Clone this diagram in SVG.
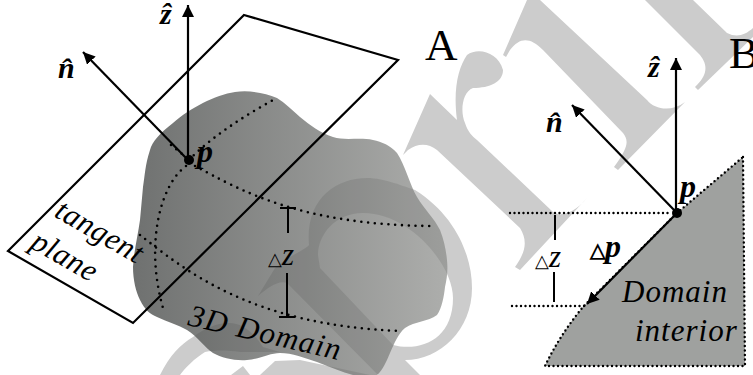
<svg xmlns="http://www.w3.org/2000/svg" width="753" height="375" viewBox="0 0 753 375">
<style>
text{font-family:"Liberation Serif",serif;fill:#000}
.i{font-style:italic;font-size:31px;letter-spacing:.5px}
.b{font-style:italic;font-weight:bold;font-size:32px}
.h{font-style:italic;font-weight:bold;font-size:30px}
.cap{font-size:45px}
.d{font-style:italic;font-size:31px}
.line{fill:none;stroke:#000;stroke-width:2.2}
.thin{fill:none;stroke:#000;stroke-width:2}
.dots{fill:none;stroke:#000;stroke-width:2.6;stroke-linecap:round;stroke-dasharray:0 6.8}
.dense{fill:none;stroke:#000;stroke-width:2.4;stroke-linecap:round;stroke-dasharray:0 4.5}
</style>
<defs>
<marker id="ah" markerUnits="userSpaceOnUse" markerWidth="14" markerHeight="14" refX="12" refY="6" orient="auto"><path d="M0,0L12,6L0,12Z" fill="#000"/></marker>
<linearGradient id="g" x1="0" x2="1" y1="0" y2="0"><stop offset="0" stop-color="#6f7170"/><stop offset="1" stop-color="#adaeac"/></linearGradient>
<path id="blob" d="M277,98C265,93 250,90 235,92C215,95 190,108 173,123C160,133 152,142 150,150C145,165 145,175 143,187L140,220C138,235 134,250 133,267C133,280 136,292 140,300C145,310 150,314 157,317C168,322 178,325 187,330C198,337 205,348 213,353C222,358 235,361 247,360C260,359 270,353 280,353C292,353 305,358 317,362C330,367 342,372 353,375L377,375C383,370 387,360 390,353C395,342 398,334 405,328C415,321 428,322 437,315C442,308 444,296 445,287C447,278 448,270 447,260C446,250 444,240 440,230C434,218 425,210 417,197C410,185 405,165 397,153C390,145 382,142 373,140C360,137 345,141 333,137C320,133 310,125 300,117C292,110 285,103 277,98Z"/>
<clipPath id="bc"><use href="#blob"/></clipPath>
<g id="wm">
<path fill-rule="evenodd" d="M258,296L275,268C290,255 305,250 309,245C305,200 335,178 367,178C385,178 405,187 415,190C455,215 472,255 472,288C472,330 440,360 405,360L420,375L378,375L287,283C278,280 268,288 258,296ZM320,268L393,345C420,352 453,340 453,298C453,265 410,213 363,213C335,213 318,235 318,255Z"/>
<path d="M403,155L430,94L457,120C453,90 458,68 467,55C478,47 498,52 503,70C503,82 490,88 473,88C462,92 460,112 465,123C468,132 472,136 477,140L553,212C558,216 572,216 587,198L520,270L515,267C527,250 527,240 520,228L437,150C428,143 418,143 408,150Z"/>
<path d="M503,55L527,0L540,0L647,100C655,110 672,112 685,102L618,170L614,167C630,145 628,140 623,133L543,50C530,37 520,37 510,50L506,57Z"/>
<path d="M645,0L700,55C708,65 708,75 695,87L698,90L753,37L753,28C745,35 737,38 727,33L693,0Z"/>
<path d="M160,375C170,355 180,345 193,337C205,328 218,323 227,323C240,322 252,330 263,347L280,352L240,352C228,350 215,350 205,352C195,358 185,368 180,375Z"/>
<path d="M231,375L243,366L250,375Z"/>
<path d="M260,375L275,361L300,360L370,375Z"/>
</g>
</defs>
<rect width="753" height="375" fill="#fff"/>
<use id="watermark" href="#wm" fill="#ccc"/>
<g id="domain3d">
<use href="#blob" fill="url(#g)"/>
<g clip-path="url(#bc)"><use href="#wm" fill="#000" fill-opacity=".09"/></g>
</g>
<g id="dotted-curves">
<path class="dots" d="M189,160C210,138 245,115 277,98"/>
<path class="dots" d="M171,145L187,158"/>
<path class="dots" d="M195,166C240,190 300,225 432,226"/>
<path class="dots" d="M186,166C160,185 145,245 163,308"/>
<path class="dots" d="M140,235C185,270 250,325 400,331"/>
</g>
<g id="plane"><path class="line" d="M244,15L398,60L133,323L8,251Z"/></g>
<g id="connectors-a">
<path class="line" d="M188,160V5" marker-end="url(#ah)"/>
<path class="line" d="M188,160L83,52" marker-end="url(#ah)"/>
<path class="thin" d="M280,208H296M288,208V233M287,273V317M279,317H295"/>
</g>
<g id="point-a"><circle cx="189" cy="160" r="5" fill="#000"/><text class="b" x="197" y="162">p</text></g>
<g id="labels-a">
<text class="h" x="160" y="24">ẑ</text>
<text class="h" x="58" y="78">n̂</text>
<text class="cap" x="425" y="60">A</text>
<text class="d" x="268" y="265"><tspan font-size="18" font-style="normal">△</tspan>z</text>
<text class="i" transform="translate(53,216) rotate(30)">tangent</text>
<text class="i" transform="translate(29,247) rotate(30)">plane</text>
<text class="i" transform="translate(187,325) rotate(13)" style="letter-spacing:1.2px">3D Domain</text>
</g>
<g id="domain-b">
<path fill="#9fa19f" d="M743,157L745,366H545C555,345 568,325 583,307L677,213Z"/>
<path class="dense" d="M743,157L745,366H545C555,345 568,325 583,307L677,213Z"/>
</g>
<g id="connectors-b">
<path class="dense" d="M510,213H672M512,306H585"/>
<path class="line" d="M676,213V58" marker-end="url(#ah)"/>
<path class="line" d="M677,213L572,105" marker-end="url(#ah)"/>
<path class="line" d="M677,213L587,304" marker-end="url(#ah)"/>
<path class="thin" d="M555,215V240M554,272V302"/>
</g>
<g id="point-b"><circle cx="677" cy="213" r="5" fill="#000"/><text class="b" x="680" y="197">p</text></g>
<g id="labels-b">
<text class="h" x="648" y="77">ẑ</text>
<text class="h" x="546" y="132">n̂</text>
<text class="cap" x="729" y="68">B</text>
<text class="d" x="535" y="267"><tspan font-size="18" font-style="normal">△</tspan>z</text>
<text class="b" x="590" y="257"><tspan font-size="20" font-style="normal">△</tspan>p</text>
<text class="i" x="622" y="302" style="letter-spacing:1px">Domain</text>
<text class="i" x="635" y="341" style="letter-spacing:1px">interior</text>
</g>
</svg>
